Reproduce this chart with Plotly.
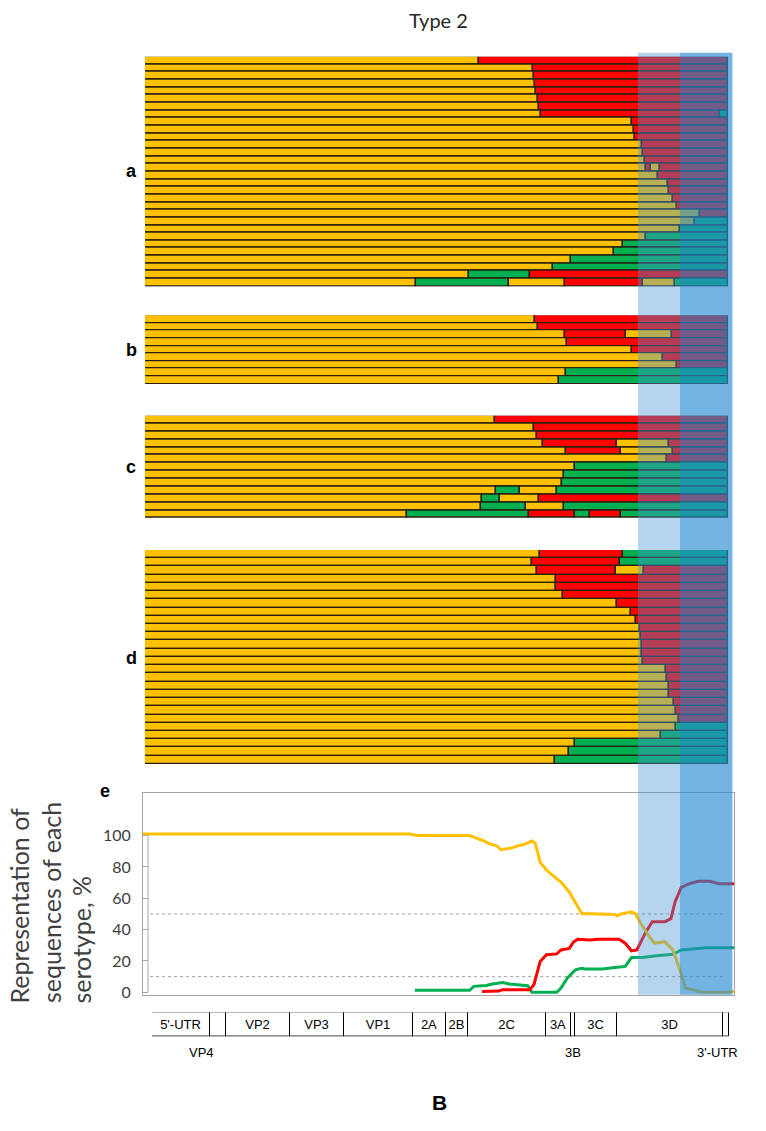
import plotly.graph_objects as go

# ---------------- data ----------------
GENOME_END = 7440
SEROTYPE_COLORS = {"Y": "#FFC000", "R": "#FF0000", "G": "#00B050"}

# panel a : breakpoints (nt) and serotype of each segment
panel_a_breaks = [
    [4267, 7440], [4947, 7440], [4961, 7440], [4976, 7440], [4996, 7440],
    [5020, 7440], [5025, 7440], [5059, 7332, 7440], [6218, 7440], [6237, 7440],
    [6257, 7440], [6345, 7440], [6359, 7440], [6379, 7440], [6394, 6452, 6574, 7440],
    [6550, 7440], [6672, 7440], [6687, 7440], [6736, 7440], [6794, 7440],
    [7088, 7440], [7024, 7440], [6829, 7440], [6394, 7440], [6095, 7440],
    [5988, 7440], [5440, 7440], [5206, 7440], [4140, 4912, 7440],
    [3456, 4644, 5362, 6354, 6760, 7440],
]
panel_a_types = [
    "YR", "YR", "YR", "YR", "YR", "YR", "YR", "YRG", "YR", "YR",
    "YR", "YR", "YR", "YR", "YRYR", "YR", "YR", "YR", "YR", "YR",
    "YR", "YG", "YG", "YG", "YG", "YG", "YG", "YG", "YGR", "YGYRYG",
]

panel_b_breaks = [
    [4976, 7440], [5020, 7440], [5362, 6144, 6731, 7440], [5391, 7440],
    [6218, 7440], [6614, 7440], [6794, 7440], [5377, 7440], [5279, 7440],
]
panel_b_types = ["YR", "YR", "YRYR", "YR", "YR", "YR", "YR", "YG", "YG"]

panel_c_breaks = [
    [4464, 7440], [4968, 7440], [5003, 7440], [5081, 6021, 6682, 7440],
    [5370, 6080, 6740, 7440], [6667, 7440], [5492, 7440], [5350, 7440],
    [5326, 7440], [4479, 4787, 5262, 7440], [4298, 4528, 5027, 7440],
    [4283, 4861, 5345, 7440], [3343, 4895, 5482, 5678, 6080, 7440],
]
panel_c_types = ["YR", "YR", "YR", "YRYR", "YRYR", "YR", "YG", "YG", "YG",
                 "YGYG", "YGYR", "YGYG", "YGRGRG"]

panel_d_breaks = [
    [5046, 6097, 7440], [4934, 6057, 7440], [5007, 6009, 6365, 7440],
    [5251, 7440], [5251, 7440], [5330, 7440], [6023, 7440], [6204, 7440],
    [6268, 7440], [6316, 7440], [6331, 7440], [6341, 7440], [6341, 7440],
    [6355, 7440], [6644, 7440], [6658, 7440], [6683, 7440], [6683, 7440],
    [6756, 7440], [6780, 7440], [6815, 7440], [6780, 7440], [6585, 7440],
    [5486, 7440], [5413, 7440], [5232, 7440],
]
panel_d_types = ["YRG", "YRG", "YRYR", "YR", "YR", "YR", "YR", "YR", "YR", "YR",
                 "YR", "YR", "YR", "YR", "YR", "YR", "YR", "YR", "YR", "YR",
                 "YR", "YG", "YG", "YG", "YG", "YG"]

# panel e : representation (%) along the genome
yellow_pos = [0, 3354, 3459, 4112, 4190, 4269, 4373, 4452, 4504, 4635, 4739, 4817,
              4896, 4938, 5000, 5079, 5157, 5262, 5366, 5444, 5523, 5941, 5967,
              6019, 6150, 6202, 6254, 6359, 6437, 6568, 6672, 6751, 6829, 6934,
              7038, 7352, 7440]
yellow_pct = [101, 101, 100, 100, 98.5, 97, 94.5, 93.5, 91, 92, 93.7, 94.7,
              96.5, 95, 83, 78, 74.6, 70.4, 64, 56.7, 50.3, 49.7, 48.8,
              50, 51.4, 50, 45, 36.6, 31.3, 32.3, 27, 15.4, 2.7, 1.5,
              0, 0, 0.6]
red_pos = [4269, 4478, 4530, 4870, 4922, 5000, 5079, 5209, 5262, 5366, 5418, 5471,
           5627, 5732, 5993, 6071, 6150, 6218, 6280, 6333, 6411, 6568, 6646,
           6698, 6777, 6881, 6986, 7143, 7247, 7440]
red_pct = [0.5, 0.8, 1.7, 1.7, 5, 19.7, 24, 24.5, 27, 28, 32, 33.8,
           33.4, 33.8, 33.8, 31.3, 26.4, 27, 33.4, 38.7, 45, 45, 47,
           57.7, 67, 69.3, 70.8, 70.8, 69.3, 69.3]
green_pos = [3422, 4112, 4164, 4321, 4399, 4530, 4608, 4739, 4844, 4896, 5209,
             5262, 5340, 5444, 5523, 5575, 5784, 5941, 6071, 6150, 6307, 6463,
             6672, 6777, 6934, 7090, 7440]
green_pct = [1.3, 1.3, 3.8, 4.4, 5.3, 6.3, 5.3, 4.9, 4.2, 0, 0,
             2.7, 9, 14.4, 15.4, 14.8, 14.8, 15.8, 16.5, 22.2, 22.4, 23.3,
             24.3, 27, 27.7, 28.5, 28.5]
y_ticks = [0, 20, 40, 60, 80, 100]
ref_lines = [50, 10]
y_title_lines = ["Representation of", "sequences of each", "serotype, %"]

# genome map
gene_names = ["5'-UTR", "VP4", "VP2", "VP3", "VP1", "2A", "2B", "2C", "3A", "3B",
              "3C", "3D", "3'-UTR"]
gene_starts = [0, 754, 958, 1773, 2472, 3363, 3796, 4077, 5081, 5402, 5453, 5998, 7364]
gene_ends = [754, 958, 1773, 2472, 3363, 3796, 4077, 5081, 5402, 5453, 5998, 7364, 7440]
inside_labels = ["5'-UTR", "", "VP2", "VP3", "VP1", "2A", "2B", "2C", "3A", "",
                 "3C", "3D", ""]
below_labels = ["VP4", "3B", "3'-UTR"]
below_label_pos = [640, 5430, 7290]

# highlighted regions (nt)
light_band = [6231, 6760]
dark_band = [6760, 7420]

# ---------------- figure ----------------
W, H = 766, 1126   # a few px of the page are taken by the html container


def px_x(p):
    return p / W


def px_y(p):
    return 1 - p / H


fig = go.Figure()
layout = dict(
    width=W, height=H, autosize=False,
    margin=dict(l=0, r=0, t=0, b=0),
    paper_bgcolor="white", plot_bgcolor="rgba(0,0,0,0)",
    showlegend=False, barmode="overlay", bargap=0,
    uniformtext=dict(minsize=13, mode="show"),
)

panels = [
    (panel_a_breaks, panel_a_types, 57, 288),
    (panel_b_breaks, panel_b_types, 317, 386),
    (panel_c_breaks, panel_c_types, 418, 521),
    (panel_d_breaks, panel_d_types, 553, 768),
]

for i, (breaks, types, top, bot) in enumerate(panels, start=1):
    ys, bases, lens, cols = [], [], [], []
    for r, (br, ty) in enumerate(zip(breaks, types)):
        start = 0
        for end, t in zip(br, ty):
            ys.append(r)
            bases.append(start)
            lens.append(end - start)
            cols.append(SEROTYPE_COLORS[t])
            start = end
    sfx = "" if i == 1 else str(i)
    fig.add_trace(go.Bar(
        x=lens, y=ys, base=bases, orientation="h", width=1,
        marker=dict(color=cols, line=dict(color="#2a2010", width=1.4)),
        xaxis="x" + sfx, yaxis="y" + sfx, hoverinfo="skip",
    ))
    layout["xaxis" + sfx] = dict(domain=[px_x(145), px_x(728)], range=[0, GENOME_END],
                                 visible=False, anchor="y" + sfx)
    layout["yaxis" + sfx] = dict(domain=[px_y(bot), px_y(top)],
                                 range=[len(breaks) - 0.5, -0.5],
                                 visible=False, anchor="x" + sfx)

# panel e lines
for pos, pct, col in [(green_pos, green_pct, "#00B050"),
                      (red_pos, red_pct, "#FF0000"),
                      (yellow_pos, yellow_pct, "#FFC000")]:
    fig.add_trace(go.Scatter(x=pos, y=pct, mode="lines",
                             line=dict(color=col, width=3),
                             xaxis="x5", yaxis="y5", hoverinfo="skip"))

layout["xaxis5"] = dict(domain=[px_x(143), px_x(734)], range=[0, GENOME_END],
                        showline=True, mirror=True, linecolor="#A6A6A6", linewidth=1,
                        showticklabels=False, ticks="", showgrid=False,
                        zeroline=False, anchor="y5")
layout["yaxis5"] = dict(domain=[px_y(1000), px_y(797)], range=[-1.5, 127.3],
                        tickvals=y_ticks, ticks="inside", ticklen=5,
                        tickcolor="#A6A6A6", showline=True, mirror=True,
                        linecolor="#A6A6A6", linewidth=1, showgrid=False,
                        zeroline=False, ticklabelstandoff=8,
                        tickfont=dict(family="Lato", size=16, color="#404040"),
                        anchor="x5")

# genome map
fig.add_trace(go.Bar(
    x=[e - s for s, e in zip(gene_starts, gene_ends)], y=[0] * len(gene_starts),
    base=gene_starts, orientation="h", width=1,
    marker=dict(color="white", line=dict(color="black", width=1)),
    text=inside_labels, textposition="inside", insidetextanchor="middle",
    textangle=0, textfont=dict(family="Liberation Sans, Arial", size=13, color="black"),
    xaxis="x6", yaxis="y6", hoverinfo="skip", cliponaxis=False,
))
layout["xaxis6"] = dict(domain=[px_x(152), px_x(729)], range=[0, GENOME_END],
                        visible=False, anchor="y6")
layout["yaxis6"] = dict(domain=[px_y(1042), px_y(1018)], range=[-0.5, 0.5],
                        visible=False, anchor="x6")

shapes = []
for y in ref_lines:
    shapes.append(dict(type="line", xref="x5 domain", yref="y5", x0=0.012, x1=0.985,
                       y0=y, y1=y, line=dict(color="#A0A0A0", width=1, dash="dot"),
                       layer="below"))
shapes.append(dict(type="line", xref="x5 domain", yref="y5", x0=0.0085, x1=0.0085,
                   y0=0, y1=100, line=dict(color="#A6A6A6", width=1)))
shapes.append(dict(type="rect", xref="x5", yref="paper", x0=light_band[0], x1=light_band[1],
                   y0=px_y(1000), y1=px_y(53), fillcolor="rgba(70,150,215,0.40)",
                   line=dict(width=0), layer="above"))
shapes.append(dict(type="rect", xref="x5", yref="paper", x0=dark_band[0], x1=dark_band[1],
                   y0=px_y(1000), y1=px_y(53), fillcolor="rgba(40,140,210,0.65)",
                   line=dict(width=0), layer="above"))
layout["shapes"] = shapes


def note(text, x, y, size, family="Liberation Sans, Arial", color="black", **kw):
    d = dict(text=text, x=px_x(x), y=px_y(y), xref="paper", yref="paper",
             xanchor="center", yanchor="middle", showarrow=False,
             font=dict(family=family, size=size, color=color))
    d.update(kw)
    return d


ann = [note("Type 2", 438, 20, 20, family="Lato", color="#262626")]
for lab, yy, xx in [("a", 172, 131), ("b", 352, 131), ("c", 470, 131), ("d", 662, 131),
                    ("e", 795, 105)]:
    ann.append(note("<b>%s</b>" % lab, xx, yy, 18))
ann.append(note("<b>B</b>", 439, 1108, 21))
for line, xx in zip(y_title_lines, [19, 51, 81]):
    ann.append(note(line, xx, 1011, 25, family="Lato", color="#404040",
                    textangle=-90, yanchor="bottom"))
for lab, pos in zip(below_labels, below_label_pos):
    ann.append(dict(text=lab, x=pos, y=px_y(1058), xref="x6", yref="paper",
                    xanchor="center", yanchor="middle", showarrow=False,
                    font=dict(family="Liberation Sans, Arial", size=13, color="black")))
layout["annotations"] = ann

fig.update_layout(**layout)
fig.write_html("out.html", config={"displayModeBar": False},
               post_script="document.body.style.margin='0px';")
